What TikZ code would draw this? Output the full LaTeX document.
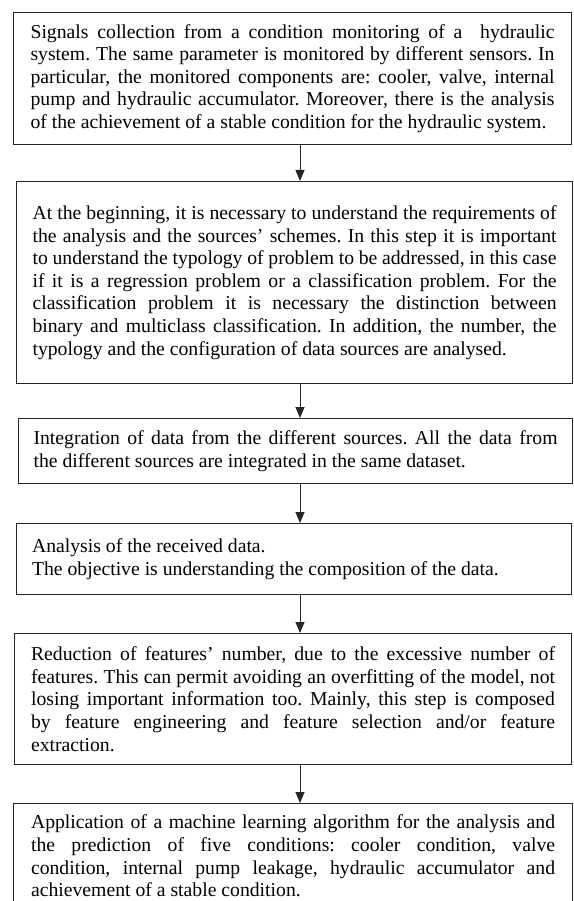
\documentclass[tikz,border=0pt]{standalone}
\usepackage{fontspec}
\setmainfont{Liberation Serif}
\usetikzlibrary{arrows.meta}
\setlength{\parindent}{0pt}
\setlength{\parskip}{0pt}
\newcommand{\boxfont}{\fontsize{19.7}{22.6}\selectfont\frenchspacing}
% one justified line, and the closing line of a box
\newcommand{\jl}[1]{\hbox to \hsize{\spaceskip=.25em plus .3em minus .05em\relax #1}\par}
\newcommand{\lastl}[1]{\mbox{\spaceskip=.25em\relax #1}\par}

\begin{document}
\begin{tikzpicture}[x=1pt, y=-1pt,
  stepbox/.style={draw=black!85, line width=1.1pt, anchor=north west, inner sep=0pt,
    text width=524pt, font=\boxfont},
  flow/.style={-{Triangle[length=11pt, width=9pt]}, line width=1pt, draw=black!85, fill=black!85}]
  \useasboundingbox (0,0) rectangle (573,901);

  \node[stepbox, minimum width=558pt, minimum height=132pt] (collect) at (13,12) {%
    \jl{Signals collection from a condition monitoring of a\ \ hydraulic}
    \jl{system. The same parameter is monitored by different sensors. In}
    \jl{particular, the monitored components are: cooler, valve, internal}
    \jl{pump and hydraulic accumulator. Moreover, there is the analysis}
    \lastl{of the achievement of a stable condition for the hydraulic system.}};
  \node[stepbox, minimum width=556pt, minimum height=202pt] (require) at (16,181) {%
    \jl{At the beginning, it is necessary to understand the requirements of}
    \jl{the analysis and the sources’ schemes. In this step it is important}
    \jl{to understand the typology of problem to be addressed, in this case}
    \jl{if it is a regression problem or a classification problem. For the}
    \jl{classification problem it is necessary the distinction between}
    \jl{binary and multiclass classification. In addition, the number, the}
    \lastl{typology and the configuration of data sources are analysed.}\vspace*{26pt}};
  \node[stepbox, minimum width=554pt, minimum height=65pt] (integrate) at (18,418) {%
    \jl{Integration of data from the different sources. All the data from}
    \lastl{the different sources are integrated in the same dataset.}};
  \node[stepbox, minimum width=555pt, minimum height=71pt] (explore) at (16,523) {%
    \lastl{Analysis of the received data.}
    \lastl{The objective is understanding the composition of the data.}};
  \node[stepbox, minimum width=557pt, minimum height=131pt] (reduce) at (14,633) {%
    \jl{Reduction of features’ number, due to the excessive number of}
    \jl{features. This can permit avoiding an overfitting of the model, not}
    \jl{losing important information too. Mainly, this step is composed}
    \jl{by feature engineering and feature selection and/or feature}
    \lastl{extraction.}};
  \node[stepbox, minimum width=559pt, minimum height=105pt] (predict) at (13,803) {%
    \jl{Application of a machine learning algorithm for the analysis and}
    \jl{the prediction of five conditions: cooler condition, valve}
    \jl{condition, internal pump leakage, hydraulic accumulator and}
    \lastl{achievement of a stable condition.}};

  \coordinate (axis) at (300,0);
  \draw[flow] (collect.south -| axis) -- (require.north -| axis);
  \draw[flow] (require.south -| axis) -- (integrate.north -| axis);
  \draw[flow] (integrate.south -| axis) -- (explore.north -| axis);
  \draw[flow] (explore.south -| axis) -- (reduce.north -| axis);
  \draw[flow] (reduce.south -| axis) -- (predict.north -| axis);
\end{tikzpicture}
\end{document}
